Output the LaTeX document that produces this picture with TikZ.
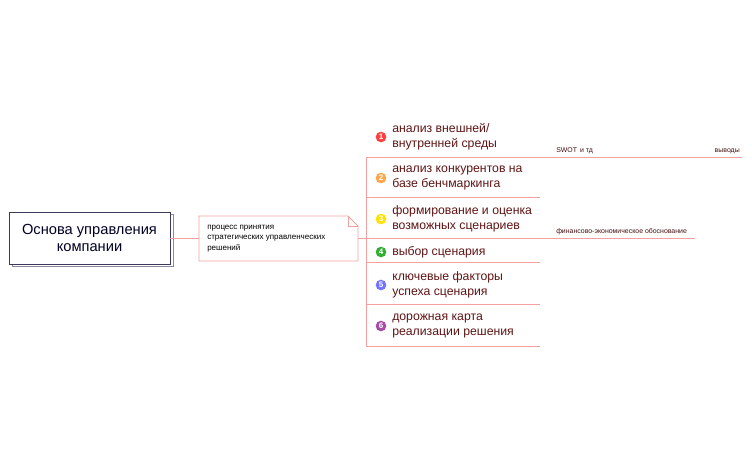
\documentclass[tikz,border=0pt]{standalone}
\usepackage{fontspec}
\setmainfont{Liberation Sans}
\usetikzlibrary{shapes.misc}
\definecolor{branch}{HTML}{F4A0A0}
\definecolor{itemtext}{HTML}{5E1414}
\definecolor{mainedge}{HTML}{3A3A5A}
\tikzset{
  branch line/.style={draw=branch, line width=0.6pt},
  item/.style={anchor=west, text=itemtext, font=\fontsize{9.2}{11}\selectfont, align=left, inner sep=0pt},
  bullet/.style={circle, fill=#1, inner sep=0pt, minimum size=8pt, text=white, font=\bfseries\fontsize{6}{6}\selectfont},
  note/.style={anchor=#1, font=\fontsize{5.2}{6}\selectfont, text=itemtext!70!black, inner sep=0pt}
}
\begin{document}
\begin{tikzpicture}[x=0.75pt,y=-0.75pt]
\useasboundingbox (0,0) rectangle (752,465);
% main topic with shadow
\fill[white, draw=mainedge!60, line width=0.5pt] (12,214) rectangle (173,266);
\node (main) [draw=mainedge, fill=white, line width=0.6pt, minimum width=161*0.75pt, minimum height=52*0.75pt, font=\fontsize{11}{13}\selectfont, align=center, text=black!85!blue] at (89.5,238) {Основа управления\\компании};
% process node with folded corner
\draw[branch line, fill=white] (199,216) -- (348,216) -- (358,226) -- (358,261) -- (199,261) -- cycle;
\draw[branch line] (348,216) -- (348,226) -- (358,226);
\node (proctext) [anchor=west, font=\fontsize{6}{8}\selectfont, align=left, inner sep=0pt] at (207,238.5) {процесс принятия\\стратегических управленческих\\решений};
\coordinate (procW) at (199,238);
\coordinate (procE) at (358,238);
\draw[branch line] (main.east) -- (procW);
\draw[branch line] (procE) -- (366,238);
% spine
\coordinate (top) at (366,157);
\coordinate (bot) at (366,346);
\draw[branch line] (top) -- (bot);
% branches
\draw[branch line] (top) -- (742,157);
\draw[branch line] (366,197) -- (540,197);
\draw[branch line] (366,238) -- (695,238);
\draw[branch line] (366,262) -- (540,262);
\draw[branch line] (366,304) -- (540,304);
\draw[branch line] (bot) -- (540,346);
% items
\foreach \n/\y/\c/\t in {1/137/{red!75!white}/{анализ внешней/\\внутренней среды},
                          2/178/{orange!70!white}/{анализ конкурентов на\\базе бенчмаркинга},
                          3/219/{yellow!85!orange}/{формирование и оценка\\возможных сценариев},
                          4/252/{green!60!black!80!white}/{выбор сценария},
                          5/285/{blue!55!white}/{ключевые факторы\\успеха сценария},
                          6/326/{violet!70!white}/{дорожная карта\\реализации решения}}{
  \node (b\n) [bullet=\c] at (381,\y) {\n};
  \node (i\n) [item] at (392,\y) {\t};
}
\node (swot) [note=south west] at (556,154) {SWOT\, и тд};
\node (vyv) [note=south east] at (740,154) {выводы};
\node (fin) [note=south west] at (556,235) {финансово-экономическое обоснование};
\end{tikzpicture}
\end{document}
